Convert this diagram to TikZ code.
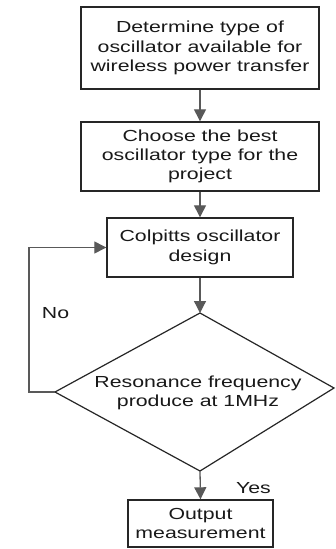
\documentclass[tikz,border=0pt]{standalone}
\usepackage{fontspec}
\setmainfont{Liberation Sans}[FakeStretch=1.33]
\usetikzlibrary{shapes.geometric,arrows.meta}
\begin{document}
\begin{tikzpicture}[x=1pt,y=-1pt,
  box/.style={draw=black!85,line width=1.4pt,rectangle,inner sep=0pt,align=center,
    font=\fontsize{16}{19.3}\selectfont,text=black!90},
  dectext/.style={inner sep=0pt,align=center,
    font=\fontsize{16}{19.3}\selectfont,text=black!90},
  decline/.style={draw=black!85,line width=1.2pt,line join=miter},
  conn/.style={draw=black!65,line width=1.3pt,-{Triangle[width=12pt,length=12pt]}},
  lbl/.style={font=\fontsize{16}{19.3}\selectfont,text=black!90,inner sep=0pt}]
\useasboundingbox[fill=white] (0,0) rectangle (336,549);
\node[box,minimum width=238pt,minimum height=82pt] (b1) at (200,48)
  {Determine type of\\oscillator available for\\wireless power transfer};
\node[box,minimum width=238pt,minimum height=69pt] (b2) at (200,156.5)
  {Choose the best\\oscillator type for the\\project};
\node[box,minimum width=186pt,minimum height=59pt] (b3) at (200,247.5)
  {Colpitts oscillator\\design};
\coordinate (dt) at (200,313);
\coordinate (dl) at (55,392);
\coordinate (db) at (200,471);
\coordinate (dr) at (334,388);
\draw[decline] (dt) -- (dr) -- (db) -- (dl) -- cycle;
\node[dectext] (d) at (198,393) {Resonance frequency\\produce at 1MHz};
\node[box,minimum width=145pt,minimum height=47pt] (b4) at (200.5,523.5)
  {Output\\measurement};
\coordinate (c1) at (29,392);
\coordinate (c2) at (29,247.5);
\draw[conn] (b1.south) -- (b2.north);
\draw[conn] (b2.south) -- (b3.north);
\draw[conn] (b3.south) -- (dt);
\draw[conn] (db) -- (b4.north);
\draw[conn] (dl) -- (c1) -- (c2) -- (b3.west);
\node[lbl] (no) at (55.5,313) {No};
\node[lbl] (yes) at (253.5,488) {Yes};
\end{tikzpicture}
\end{document}
